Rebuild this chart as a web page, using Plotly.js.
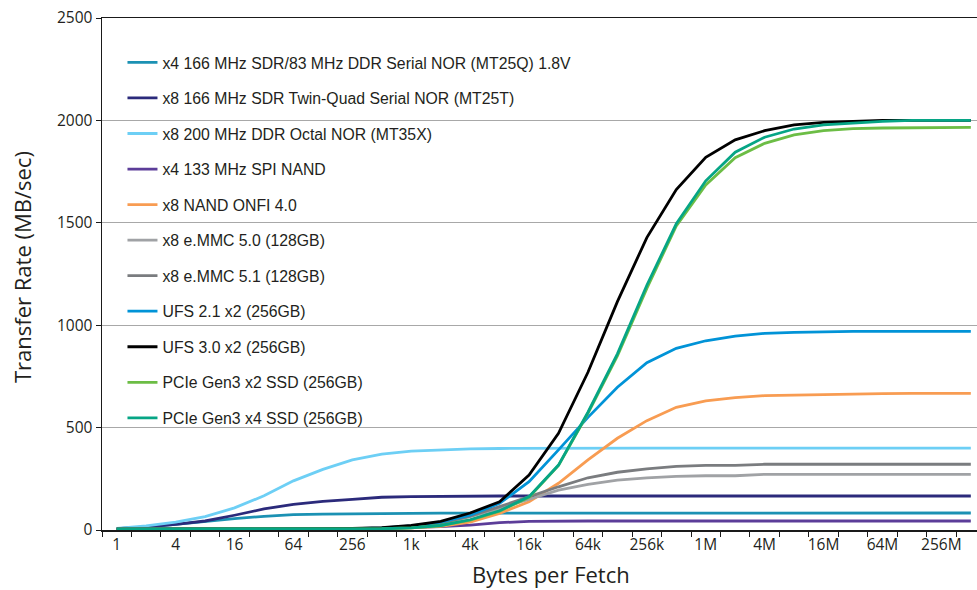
<!DOCTYPE html>
<html>
<head>
<meta charset="utf-8">
<script src="https://cdn.plot.ly/plotly-3.0.1.min.js"></script>
<style>
  html, body { margin: 0; padding: 0; background: #fff; overflow: hidden; }
  #chart { width: 977px; height: 590px; }
</style>
</head>
<body>
<div id="chart"></div>
<script>
// Categories: bytes per fetch (powers of two)
const categories = ["1","2","4","8","16","32","64","128","256","512","1k","2k","4k","8k","16k","32k","64k","128k","256k","512k","1M","2M","4M","8M","16M","32M","64M","128M","256M","512M"];
const tickLabels = ["1","4","16","64","256","1k","4k","16k","64k","256k","1M","4M","16M","64M","256M"];

const seriesNames = [
  "x4 166 MHz SDR/83 MHz DDR Serial NOR (MT25Q) 1.8V",
  "x8 166 MHz SDR Twin-Quad Serial NOR (MT25T)",
  "x8 200 MHz DDR Octal NOR (MT35X)",
  "x4 133 MHz SPI NAND",
  "x8 NAND ONFI 4.0",
  "x8 e.MMC 5.0 (128GB)",
  "x8 e.MMC 5.1 (128GB)",
  "UFS 2.1 x2 (256GB)",
  "UFS 3.0 x2 (256GB)",
  "PCIe Gen3 x2 SSD (256GB)",
  "PCIe Gen3 x4 SSD (256GB)"
];

// Transfer rate (MB/sec), one value per category
const mt25q   = [6, 14, 27, 42, 56, 67, 75, 78, 80, 80, 81, 82, 82, 82, 83, 83, 83, 83, 83, 83, 83, 83, 83, 83, 83, 83, 83, 83, 83, 83];
const mt25t   = [6, 15, 28, 44, 72, 103, 125, 140, 150, 160, 163, 165, 166, 166, 166, 166, 166, 166, 166, 166, 166, 166, 166, 166, 166, 166, 166, 166, 166, 166];
const mt35x   = [8, 20, 38, 65, 108, 167, 240, 296, 342, 370, 385, 392, 396, 398, 399, 400, 400, 400, 400, 400, 400, 400, 400, 400, 400, 400, 400, 400, 400, 400];
const spiNand = [4, 4, 4, 4, 4, 4, 5, 5, 6, 8, 12, 17, 24, 36, 42, 44, 44, 44, 44, 44, 44, 44, 44, 44, 44, 44, 44, 44, 44, 44];
const onfi    = [4, 4, 4, 4, 4, 4, 4, 5, 5, 7, 10, 18, 38, 81, 138, 228, 342, 448, 534, 599, 630, 646, 656, 659, 660, 662, 666, 667, 667, 667];
const emmc50  = [4, 4, 4, 4, 4, 4, 5, 5, 6, 8, 14, 32, 65, 106, 150, 195, 223, 244, 255, 262, 265, 265, 272, 272, 272, 272, 272, 272, 272, 272];
const emmc51  = [4, 4, 4, 4, 4, 4, 5, 5, 6, 8, 15, 34, 68, 114, 163, 211, 255, 282, 298, 311, 316, 316, 321, 321, 321, 321, 321, 321, 321, 321];
const ufs21   = [4, 4, 4, 4, 4, 4, 5, 5, 6, 10, 20, 38, 72, 130, 236, 391, 550, 697, 817, 887, 924, 947, 960, 965, 968, 970, 970, 970, 970, 970];
const ufs30   = [4, 4, 4, 4, 4, 4, 5, 6, 8, 12, 22, 42, 83, 138, 268, 472, 770, 1115, 1428, 1662, 1820, 1905, 1950, 1978, 1990, 1996, 2000, 2000, 2000, 2000];
const pcieX2  = [4, 4, 4, 4, 4, 4, 4, 4, 5, 6, 10, 22, 48, 92, 160, 315, 570, 850, 1180, 1485, 1685, 1818, 1888, 1929, 1950, 1960, 1963, 1965, 1966, 1966];
const pcieX4  = [4, 4, 4, 4, 4, 4, 4, 4, 5, 6, 10, 22, 50, 94, 163, 317, 575, 860, 1195, 1495, 1705, 1845, 1918, 1958, 1978, 1988, 1995, 2000, 2000, 2000];

const seriesValues = [mt25q, mt25t, mt35x, spiNand, onfi, emmc50, emmc51, ufs21, ufs30, pcieX2, pcieX4];
const seriesColors = ["#1b91b3", "#2b2a7b", "#6dcff5", "#5c3d99", "#f89c52", "#a0a2a5", "#7a7c7f", "#0193d7", "#000000", "#6cbd45", "#06a585"];

const traces = seriesNames.map((name, i) => ({
  type: "scatter",
  mode: "lines",
  name: name,
  legendgroup: "g" + i,
  x: categories,
  y: seriesValues[i],
  line: { color: seriesColors[i], width: 2.8 },
  hoverinfo: "x+y+name"
}));

const textColor = "#231f20";
const axisFont = { family: "Open Sans, Noto Sans, sans-serif", size: 15.5, color: textColor };
const titleFont = { family: "Open Sans, Noto Sans, sans-serif", size: 22, color: textColor };

// every category boundary gets a tick; only every other category is labelled
const xTickText = categories.map(c => (tickLabels.includes(c) ? c : ""));

const layout = {
  width: 977,
  height: 590,
  margin: { l: 102, r: 0, t: 18, b: 60, pad: 0 },
  paper_bgcolor: "#ffffff",
  plot_bgcolor: "#ffffff",
  showlegend: true,
  legend: {
    x: 0.0234, y: 0.946, xanchor: "left", yanchor: "top",
    bgcolor: "rgba(0,0,0,0)", borderwidth: 0,
    font: { family: "Liberation Sans, Arial, sans-serif", size: 15.8, color: textColor },
    tracegroupgap: 12.0,
    itemwidth: 30
  },
  xaxis: {
    type: "category",
    categoryorder: "array",
    categoryarray: categories,
    range: [-0.5, 29.21],
    tickmode: "array",
    tickvals: categories,
    ticktext: xTickText,
    tickson: "boundaries",
    tickangle: 0,
    ticks: "outside",
    ticklen: 5,
    tickwidth: 1,
    tickcolor: "#1a1a1a",
    showgrid: false,
    zeroline: false,
    showline: true,
    linecolor: "#1a1a1a",
    linewidth: 1.5,
    mirror: true,
    tickfont: axisFont,
    fixedrange: true
  },
  yaxis: {
    range: [0, 2500],
    tickmode: "linear",
    tick0: 0,
    dtick: 500,
    ticks: "outside",
    ticklen: 5,
    tickwidth: 1,
    tickcolor: "#1a1a1a",
    showgrid: true,
    gridcolor: "#a8a8a8",
    gridwidth: 1,
    zeroline: false,
    showline: true,
    linecolor: "#1a1a1a",
    linewidth: 1.5,
    tickfont: axisFont,
    fixedrange: true
  },
  annotations: [
    {
      text: "Bytes per Fetch",
      xref: "paper", yref: "paper",
      x: 0.5131, y: -0.086,
      xanchor: "center", yanchor: "middle",
      showarrow: false,
      font: titleFont
    },
    {
      text: "Transfer Rate (MB/sec)",
      xref: "paper", yref: "paper",
      x: -0.0914, y: 0.5137,
      xanchor: "center", yanchor: "middle",
      textangle: -90,
      showarrow: false,
      font: titleFont
    }
  ]
};

Plotly.newPlot("chart", traces, layout, { displayModeBar: false, staticPlot: true });
</script>
</body>
</html>
